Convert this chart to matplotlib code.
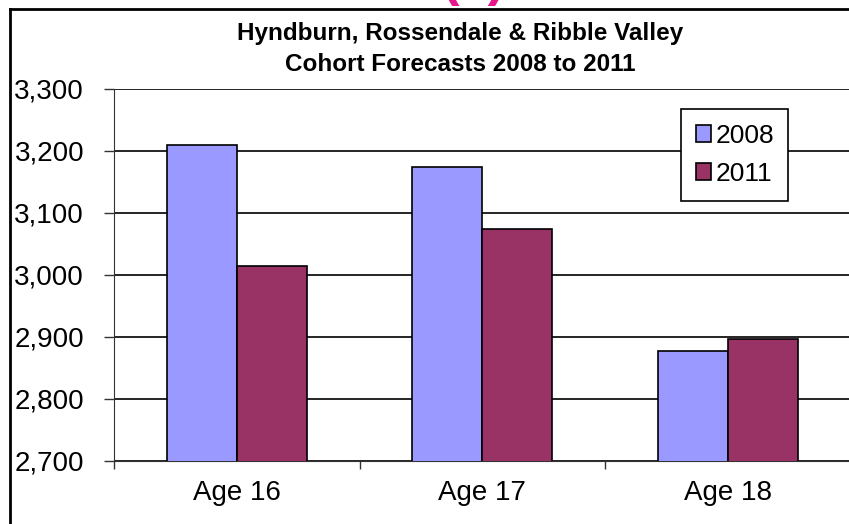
import matplotlib
matplotlib.use("Agg")
import matplotlib.pyplot as plt
import numpy as np
from matplotlib.lines import Line2D

plt.rcParams['font.family'] = ['Liberation Sans', 'DejaVu Sans']

categories = ["Age 16", "Age 17", "Age 18"]
series_names = ["2008", "2011"]
values_2008 = [3210, 3174, 2877]
values_2011 = [3014, 3074, 2897]
y_ticks = [2700, 2800, 2900, 3000, 3100, 3200, 3300]
title_text = "Hyndburn, Rossendale & Ribble Valley\nCohort Forecasts 2008 to 2011"

W, H = 849, 524
fig = plt.figure(figsize=(W / 100, H / 100), dpi=100)

ax_left, ax_right, ax_top, ax_bottom = 114, 850.5, 89, 461
ax = fig.add_axes([ax_left / W, 1 - ax_bottom / H, (ax_right - ax_left) / W, (ax_bottom - ax_top) / H])

x = np.arange(len(categories))
bw = 1 / 3.5
ax.bar(x - bw / 2, values_2008, bw, color='#9999FF', edgecolor='black', linewidth=1.2, label=series_names[0], zorder=3)
ax.bar(x + bw / 2, values_2011, bw, color='#993366', edgecolor='black', linewidth=1.2, label=series_names[1], zorder=3)

ax.set_xlim(-0.5, 2.5)
ax.set_ylim(2700, 3300)
ax.set_yticks(y_ticks)
ax.set_yticklabels([f"{v:,}" for v in y_ticks], fontsize=20)
ax.yaxis.grid(True, color='black', linewidth=1.2, zorder=0)
ax.set_axisbelow(True)
for s in ['top', 'right']:
    ax.spines[s].set_visible(False)
ax.spines['left'].set_color('#333333')
ax.spines['bottom'].set_color('#333333')
ax.tick_params(axis='y', length=7.5, width=1, pad=14, color='#333333')

# categories on minor ticks, boundary tick marks on major
ax.set_xticks([-0.5, 0.5, 1.5, 2.5])
ax.set_xticklabels([])
ax.set_xticks(x, minor=True)
ax.set_xticklabels(categories, minor=True, fontsize=20)
ax.tick_params(axis='x', which='major', length=6, width=1, color='#333333')
ax.tick_params(axis='x', which='minor', length=0, pad=14)

leg = ax.legend(loc='upper left', bbox_to_anchor=(681 / W, 1 - 109 / H), bbox_transform=fig.transFigure,
                fontsize=19, frameon=True, fancybox=False, edgecolor='black', framealpha=1,
                handlelength=0.6, handleheight=0.6, handletextpad=0.15, labelspacing=0.55,
                borderpad=0.55, borderaxespad=0)
leg.get_frame().set_linewidth(1.2)

fig.text(460 / W, 1 - 49 / H, title_text, ha='center', va='center', fontsize=17.5,
         fontweight='bold', linespacing=1.42)

# figure border (chart area), cropped at right/bottom
fig.add_artist(Line2D([10 / W, 10 / W], [0, 1 - 9 / H], transform=fig.transFigure, color='black', linewidth=2))
fig.add_artist(Line2D([10 / W, 1], [1 - 9 / H, 1 - 9 / H], transform=fig.transFigure, color='black', linewidth=2))

# partially visible magenta label above the chart
fig.text(474 / W, 1 + 5 / H, "(a)", ha='center', va='baseline', fontsize=38, fontweight='bold', color='#E8158C')

fig.savefig('out.png', dpi=100)
